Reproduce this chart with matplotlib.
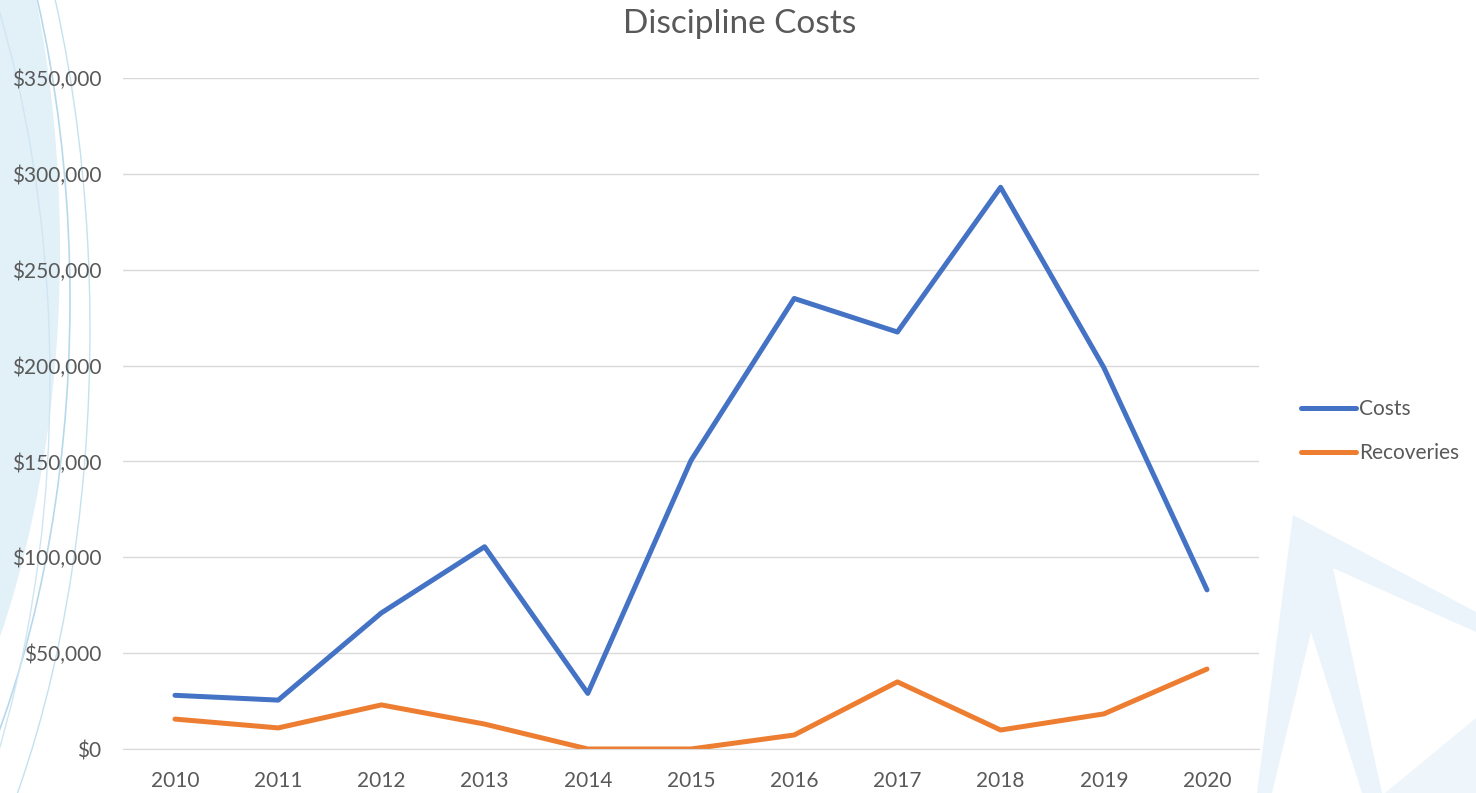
import matplotlib
matplotlib.use("Agg")
import matplotlib.pyplot as plt
from matplotlib.patches import Polygon, Ellipse, Arc
from matplotlib.ticker import FuncFormatter

years = ["2010", "2011", "2012", "2013", "2014", "2015", "2016", "2017", "2018", "2019", "2020"]
costs = [28000, 25500, 71000, 105500, 29000, 150500, 235000, 217500, 293000, 199000, 83000]
recoveries = [15600, 11000, 23000, 13000, 0, 0, 7300, 35000, 9900, 18300, 41700]
yticks = [0, 50000, 100000, 150000, 200000, 250000, 300000, 350000]

plt.rcParams['font.family'] = ['Lato', 'DejaVu Sans']

W, H = 1476, 793
fig = plt.figure(figsize=(W / 100, H / 100), dpi=100)
fig.patch.set_facecolor("white")

# decorative background
bg = fig.add_axes([0, 0, 1, 1], zorder=-5)
bg.set_xlim(0, W)
bg.set_ylim(H, 0)
bg.axis("off")
bg.add_patch(Ellipse((-300, 250), 720, 1400, facecolor="#e2f0f8", edgecolor="none"))
bg.add_patch(Arc((-320, 300), 780, 1500, theta1=-60, theta2=60, color="#b7d9ea", lw=1.2))
bg.add_patch(Arc((-250, 330), 680, 1500, theta1=-70, theta2=60, color="#c5e1ef", lw=1.0))
bg.add_patch(Arc((-400, 380), 900, 1600, theta1=-70, theta2=60, color="#cfe6f2", lw=1.0))
light = "#eaf4fa"
bg.add_patch(Polygon([(1257, 793), (1293, 515), (1476, 612), (1476, 632), (1333, 568), (1382, 793)],
                     closed=True, facecolor=light, edgecolor="none"))
bg.add_patch(Polygon([(1311, 632), (1272, 793), (1362, 793)], closed=True,
                     facecolor="white", edgecolor="none"))
bg.add_patch(Polygon([(1385, 793), (1476, 718), (1476, 793)], closed=True,
                     facecolor="#eef6fb", edgecolor="none"))

ax = fig.add_axes([123.4 / W, 1 - 749 / H, (1258.6 - 123.4) / W, (749 - 78) / H])
ax.set_facecolor("none")
x = list(range(len(years)))
ax.plot(x, costs, color="#4472C4", lw=3.6, solid_capstyle="round", solid_joinstyle="round", label="Costs")
ax.plot(x, recoveries, color="#ED7D31", lw=3.6, solid_capstyle="round", solid_joinstyle="round", label="Recoveries")

ax.set_xlim(-0.5, len(years) - 0.5)
ax.set_ylim(0, 350000)
ax.set_yticks(yticks)
ax.yaxis.set_major_formatter(FuncFormatter(lambda v, p: "${:,.0f}".format(v)))
ax.set_xticks(x)
ax.set_xticklabels(years)
ax.grid(axis="y", color="#d9d9d9", lw=1.0)
ax.set_axisbelow(True)
for s in ["top", "right", "left"]:
    ax.spines[s].set_visible(False)
ax.spines["bottom"].set_color("#d9d9d9")
ax.tick_params(axis="both", length=0, labelsize=15, labelcolor="#595959")
ax.tick_params(axis="y", pad=16)
ax.tick_params(axis="x", pad=16)

fig.text(740 / W, 1 - 24 / H, "Discipline Costs", ha="center", va="center", fontsize=24, color="#595959")

leg = ax.legend(loc="center left", bbox_to_anchor=(1282 / W, 1 - 431 / H), bbox_transform=fig.transFigure,
                frameon=False, fontsize=15, handlelength=2.65, handletextpad=0.15, labelspacing=1.15,
                labelcolor="#595959")

fig.savefig("out.png", dpi=100, facecolor="white")
